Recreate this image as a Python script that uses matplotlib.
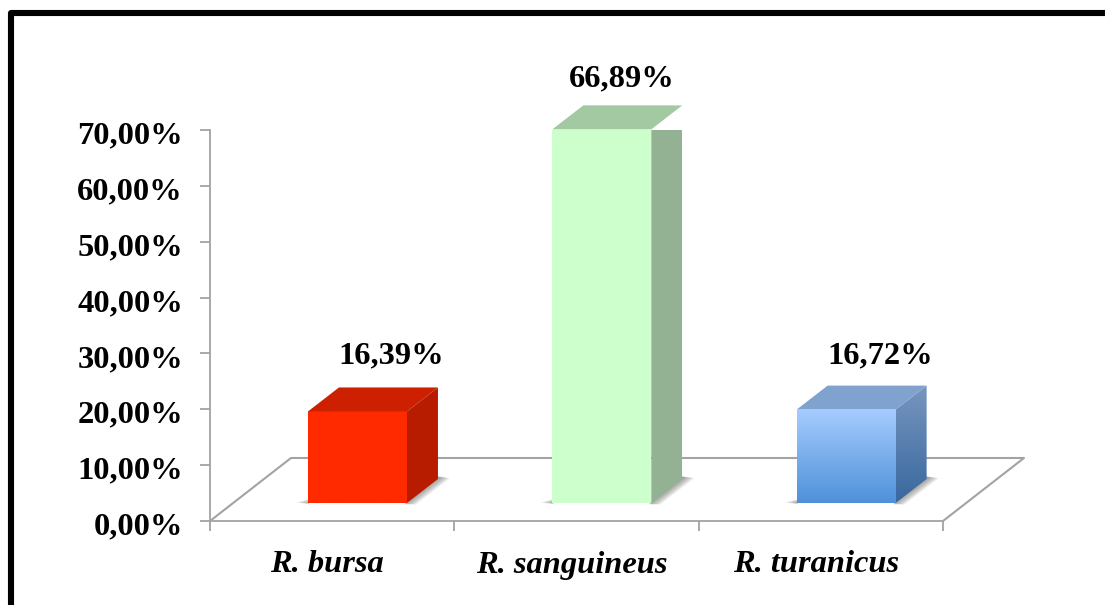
#!/usr/bin/env python
import numpy as np
import matplotlib
matplotlib.use("Agg")
import matplotlib.pyplot as plt
from matplotlib.colors import LinearSegmentedColormap
from matplotlib.patches import Polygon
from matplotlib.lines import Line2D
from matplotlib.transforms import ScaledTranslation

#========== Data ===========
species = ["R. bursa", "R. sanguineus", "R. turanicus"]
values = [16.39, 66.89, 16.72]
value_labels = ["16,39%", "66,89%", "16,72%"]
y_ticks = [0, 10, 20, 30, 40, 50, 60, 70]
y_labels = ["0,00%", "10,00%", "20,00%", "30,00%", "40,00%", "50,00%", "60,00%", "70,00%"]

front_top = ["#FF2A00", "#CCFFCC", "#A6CCFF"]
front_bot = ["#FF2A00", "#CCFFCC", "#4F91D9"]
roof_col = ["#CC2000", "#A3C9A3", "#80A2CE"]
side_top = ["#B81C00", "#93B193", "#7896BF"]
side_bot = ["#B81C00", "#93B193", "#38689F"]
# label shift from the bar centre and above the roof, in pixels
label_dx = [34, 20, 34]
label_dy = [17, 12, 15]

plt.rcParams["font.family"] = ["Liberation Serif", "DejaVu Serif"]
axis_col = "#A3A3A3"

W, H = 1105, 605
fig = plt.figure(figsize=(W/100, H/100), dpi=100)
ax = fig.add_axes([210/W, (H-521)/H, 733/W, 391/H])
ax.set_xlim(0, 3)
ax.set_ylim(0, 70)
ax.patch.set_alpha(0)

# pixel to data scale
sx = 3/733.0
sy = 70/391.0

#========= Axes ===========
for s in ["top", "right"]:
    ax.spines[s].set_visible(False)
for s in ["left", "bottom"]:
    ax.spines[s].set_color(axis_col)
    ax.spines[s].set_linewidth(1.3)
ax.set_yticks(y_ticks)
ax.set_yticklabels(y_labels, fontsize=23.4, fontweight="bold")
ax.set_xticks([0, 1, 2, 3])
ax.set_xticklabels([])
ax.tick_params(axis="both", color=axis_col, width=1.3, length=7.5)
ax.tick_params(axis="y", pad=12)
# tick labels sit a little under their ticks in the reference
for lab in ax.get_yticklabels():
    lab.set_transform(lab.get_transform() + ScaledTranslation(0, -2.5/100, fig.dpi_scale_trans))

# floor
fdx, fdy = 81*sx, 63*sy
ax.plot([0, fdx, 3+fdx, 3], [0, fdy, fdy, 0], color=axis_col, lw=1.5, clip_on=False, zorder=1)

#========= Bars ===========
off_x = 25.3*sx
off_y = 18*sy
bw = 99*sx
ddx, ddy = 31*sx, 24*sy


def grad(poly, c1, c2, y0, y1, x0, x1):
    cm = LinearSegmentedColormap.from_list("g", [c1, c2])
    im = ax.imshow(np.linspace(0, 1, 128).reshape(-1, 1), cmap=cm, aspect="auto",
                   extent=[x0, x1, y0, y1], origin="upper", zorder=4, clip_on=True)
    p = Polygon(poly, closed=True, transform=ax.transData, fc="none", ec="none")
    ax.add_patch(p)
    im.set_clip_path(p)


for i in range(3):
    x0 = i + 0.5 + off_x - bw/2
    x1 = x0 + bw
    y0 = off_y
    y1 = off_y + values[i]
    # soft shadow on the floor, built from thin see-through layers
    for k in range(8):
        g = (8-k)*1.5
        right = [(x1-2*sx, y0-0.12*g*sy), (x1+(g-3)*sx, y0-0.12*g*sy),
                 (x1+ddx+g*sx, y0+ddy+(2-0.1*g)*sy), (x1+ddx-2*sx, y0+ddy+(2+0.1*g)*sy)]
        left = [(x0-g*sx, y0+0.5*sy), (x0+sx, y0-0.1*g*sy), (x0+sx, y0+(1+0.25*g)*sy)]
        ax.add_patch(Polygon(right, closed=True, fc="#5E6058", ec="none", alpha=0.1, zorder=2))
        ax.add_patch(Polygon(left, closed=True, fc="#5E6058", ec="none", alpha=0.08, zorder=2))
    grad([(x0, y0), (x1, y0), (x1, y1), (x0, y1)], front_top[i], front_bot[i], y0, y1, x0, x1)
    side = [(x1, y0), (x1+ddx, y0+ddy), (x1+ddx, y1+ddy), (x1, y1)]
    grad(side, side_top[i], side_bot[i], y0, y1+ddy, x1, x1+ddx)
    ax.add_patch(Polygon([(x0, y1), (x1, y1), (x1+ddx, y1+ddy), (x0+ddx, y1+ddy)], closed=True,
                         fc=roof_col[i], ec="none", zorder=5, clip_on=False))
    ax.text(i + 0.5 + off_x + label_dx[i]*sx, y1 + ddy + label_dy[i]*sy, value_labels[i],
            ha="center", va="bottom", fontsize=23.4, fontweight="bold", clip_on=False)
    ax.text(i + 0.5 - 5*sx, -44*sy, species[i], ha="center", va="center", fontsize=23.4,
            fontweight="bold", fontstyle="italic", clip_on=False)

ax.set_xlim(0, 3)
ax.set_ylim(0, 70)

#========= Frame (left and top only, rest runs off the picture) ===========
fig.add_artist(Line2D([10.5/W, 10.5/W, 1], [0, 1-13/H, 1-13/H], transform=fig.transFigure,
                      color="black", lw=4.4, solid_joinstyle="round"))

fig.savefig("out.png", dpi=100)
